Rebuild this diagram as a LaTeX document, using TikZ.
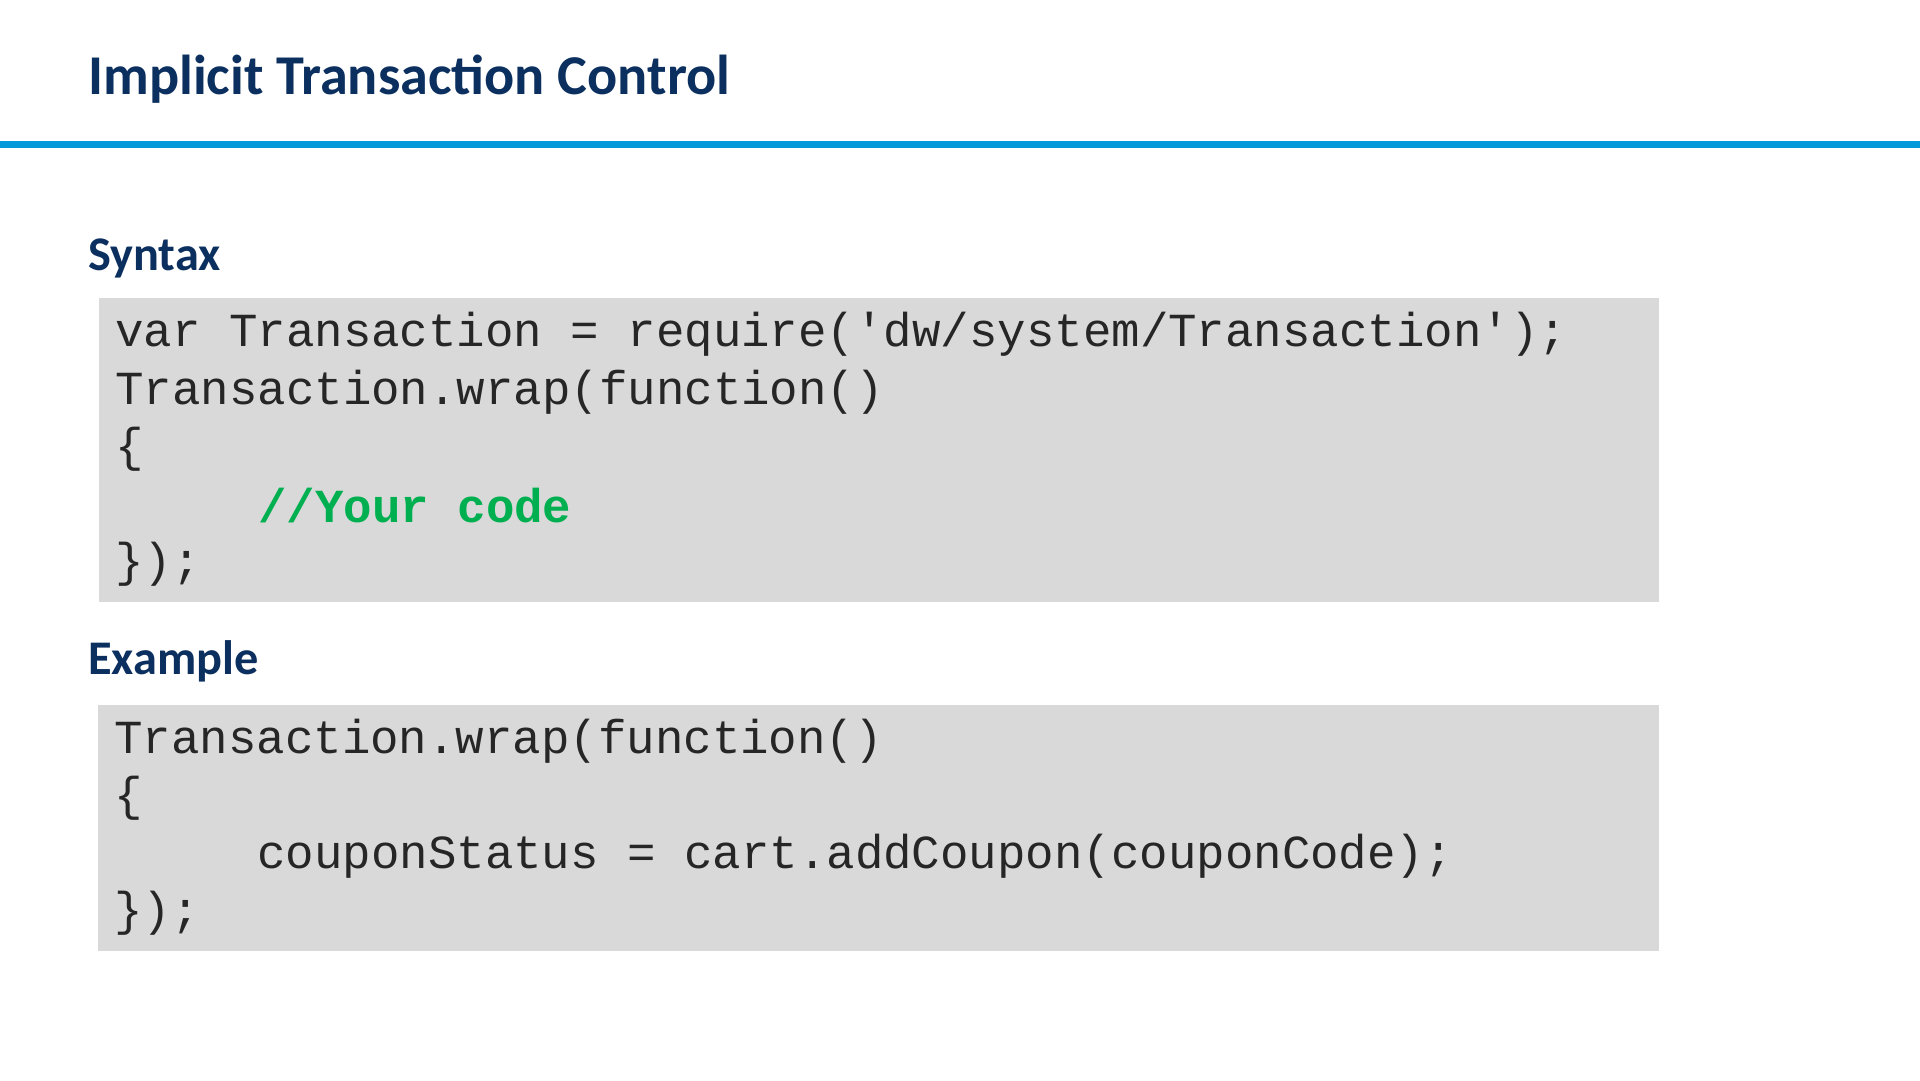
\documentclass[tikz,border=0pt]{standalone}
\usepackage{fontspec}
\setmainfont{Carlito}
\newfontfamily\codefont{Liberation Mono}
\definecolor{navy}{HTML}{0B2F5E}
\definecolor{rule}{HTML}{0099DA}
\definecolor{boxgray}{HTML}{D9D9D9}
\definecolor{codetxt}{HTML}{262626}
\definecolor{cmt}{HTML}{00B050}
\begin{document}
\begin{tikzpicture}[x=0.02cm,y=-0.02cm,
  title/.style={anchor=west,inner sep=0,text=navy,font=\fontsize{32}{38}\selectfont\bfseries},
  head/.style={anchor=west,inner sep=0,text=navy,font=\fontsize{27.5}{33}\selectfont\bfseries},
  code/.style={anchor=west,inner sep=0,text=codetxt,font=\codefont\fontsize{27}{32}\selectfont},
  codebox/.style={fill=boxgray,draw=none}]
\useasboundingbox (0,0) rectangle (1920,1080);
\fill[white] (0,0) rectangle (1920,1080);
\node[title] (t) at (88,79) {Implicit Transaction Control};
\draw[rule,line width=3.5] (0,144.5) -- (1920,144.5);
\node[head] (h1) at (88,258) {Syntax};
\fill[codebox] (99,298) rectangle (1659,602);
\node[code] (c1) at (115,334) {var Transaction = require('dw/system/Transaction');};
\node[code] (c2) at (115,392) {Transaction.wrap(function()};
\node[code] (c3) at (115,449) {\{};
\node[code,text=cmt,font=\codefont\fontsize{27}{32}\selectfont\bfseries] (c4) at (258,506) {//Your code};
\node[code] (c5) at (115,564) {\});};
\node[head] (h2) at (88,661) {Example};
\fill[codebox] (98,705) rectangle (1659,951);
\node[code] (e1) at (114,741) {Transaction.wrap(function()};
\node[code] (e2) at (114,798) {\{};
\node[code] (e3) at (257,856) {couponStatus = cart.addCoupon(couponCode);};
\node[code] (e4) at (114,913) {\});};
\end{tikzpicture}
\end{document}
